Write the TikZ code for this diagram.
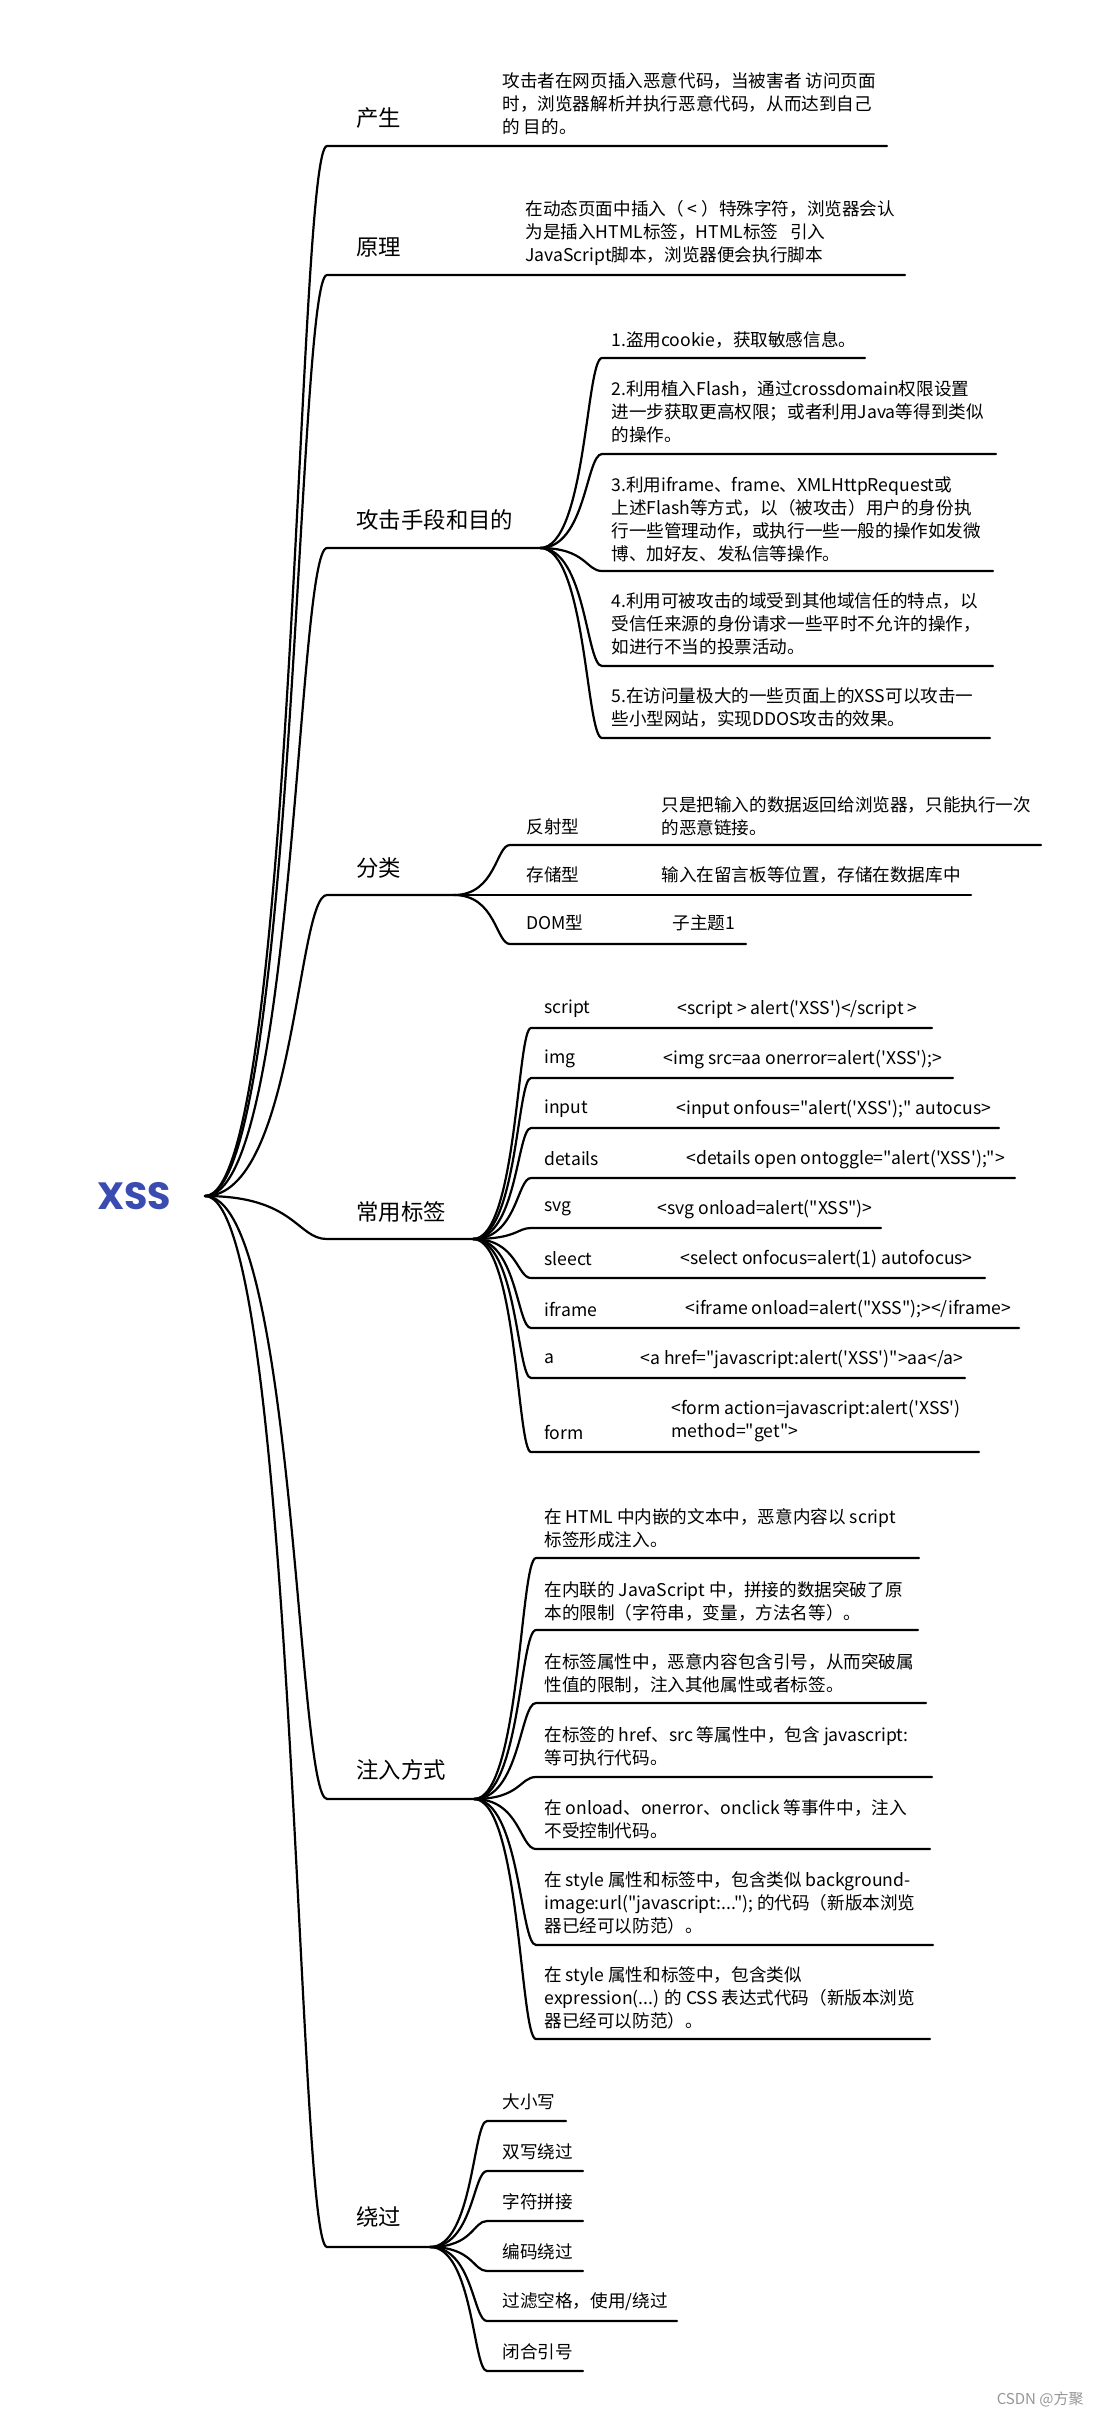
\documentclass[tikz,border=0pt]{standalone}
\usepackage{fontspec}
\newfontfamily\cjk{Noto Sans CJK SC}
\newfontfamily\rootfont{Poppins}
\definecolor{xssblue}{RGB}{58,76,176}
\definecolor{markgray}{RGB}{150,150,150}
\tikzset{
	toptext/.style={font=\cjk\fontsize{11.2}{13}\selectfont, anchor=west, inner sep=0pt}
}
\tikzset{
	leaftext/.style={font=\cjk\fontsize{8.8}{11.5}\selectfont, anchor=west, align=left, inner sep=0pt}
}
\tikzset{
	twig/.style={line width=1.1pt, line cap=round}
}

\begin{document}
\begin{tikzpicture}[x=0.5pt, y=-0.5pt]
  \useasboundingbox (0,0) rectangle (1100,2435);
  \node[font=\rootfont\bfseries\fontsize{19}{22}\selectfont, text=xssblue, inner sep=0pt] (xss) at (134,1196) {XSS};
  \coordinate (root) at (205,1196);

  % 产生
  \coordinate (cs-l) at (327,146);
  \coordinate (cs-r) at (887,146);
  \node[toptext] (cs) at (356,118) {产生};
  \node[leaftext] (cs-t) at (502,104) {攻击者在网页插入恶意代码，当被害者 访问页面\\时，浏览器解析并执行恶意代码，从而达到自己\\的 目的。};
  \draw[twig] (root) .. controls +(90,0) and +(-30,0) .. (cs-l) -- (cs-r);

  % 原理
  \coordinate (yl-l) at (327,275);
  \coordinate (yl-r) at (905,275);
  \node[toptext] (yl) at (356,247) {原理};
  \node[leaftext] (yl-t) at (525,233) {在动态页面中插入（ < ）特殊字符，浏览器会认\\为是插入HTML标签，HTML标签 \ \ 引入\\JavaScript脚本，浏览器便会执行脚本};
  \draw[twig] (root) .. controls +(90,0) and +(-30,0) .. (yl-l) -- (yl-r);

  % 攻击手段和目的
  \coordinate (gj-l) at (327,548);
  \coordinate (gj-r) at (540,548);
  \node[toptext] (gj) at (356,520) {攻击手段和目的};
  \draw[twig] (root) .. controls +(90,0) and +(-30,0) .. (gj-l) -- (gj-r);

  \coordinate (gj1-l) at (602,358);
  \coordinate (gj1-r) at (865,358);
  \node[leaftext] (gj1) at (611,340) {1.盗用cookie，获取敏感信息。};
  \draw[twig] (gj-r) .. controls +(46,0) and +(-16,0) .. (gj1-l) -- (gj1-r);

  \coordinate (gj2-l) at (602,454);
  \coordinate (gj2-r) at (996,454);
  \node[leaftext] (gj2) at (611,412) {2.利用植入Flash，通过crossdomain权限设置\\进一步获取更高权限；或者利用Java等得到类似\\的操作。};
  \draw[twig] (gj-r) .. controls +(46,0) and +(-16,0) .. (gj2-l) -- (gj2-r);

  \coordinate (gj3-l) at (602,571);
  \coordinate (gj3-r) at (993,571);
  \node[leaftext] (gj3) at (611,519) {3.利用iframe、frame、XMLHttpRequest或\\上述Flash等方式，以（被攻击）用户的身份执\\行一些管理动作，或执行一些一般的操作如发微\\博、加好友、发私信等操作。};
  \draw[twig] (gj-r) .. controls +(46,0) and +(-16,0) .. (gj3-l) -- (gj3-r);

  \coordinate (gj4-l) at (602,666);
  \coordinate (gj4-r) at (993,666);
  \node[leaftext] (gj4) at (611,624) {4.利用可被攻击的域受到其他域信任的特点，以\\受信任来源的身份请求一些平时不允许的操作，\\如进行不当的投票活动。};
  \draw[twig] (gj-r) .. controls +(46,0) and +(-16,0) .. (gj4-l) -- (gj4-r);

  \coordinate (gj5-l) at (602,738);
  \coordinate (gj5-r) at (990,738);
  \node[leaftext] (gj5) at (611,708) {5.在访问量极大的一些页面上的XSS可以攻击一\\些小型网站，实现DDOS攻击的效果。};
  \draw[twig] (gj-r) .. controls +(46,0) and +(-16,0) .. (gj5-l) -- (gj5-r);

  % 分类
  \coordinate (fl-l) at (327,895);
  \coordinate (fl-r) at (454,895);
  \node[toptext] (fl) at (356,868) {分类};
  \draw[twig] (root) .. controls +(90,0) and +(-30,0) .. (fl-l) -- (fl-r);

  \coordinate (fs-l) at (510,845);
  \coordinate (fs-r) at (1041,845);
  \node[leaftext] (fs) at (526,827) {反射型};
  \node[leaftext] (fs-t) at (661,816) {只是把输入的数据返回给浏览器，只能执行一次\\的恶意链接。};
  \draw[twig] (fl-r) .. controls +(42,0) and +(-14,0) .. (fs-l) -- (fs-r);

  \coordinate (cc-l) at (510,895);
  \coordinate (cc-r) at (971,895);
  \node[leaftext] (cc) at (526,875) {存储型};
  \node[leaftext] (cc-t) at (661,875) {输入在留言板等位置，存储在数据库中};
  \draw[twig] (fl-r) -- (cc-l) -- (cc-r);

  \coordinate (dom-l) at (510,944);
  \coordinate (dom-r) at (746,944);
  \node[leaftext] (dom) at (526,923) {DOM型};
  \node[leaftext] (dom-t) at (672,923) {子主题1};
  \draw[twig] (fl-r) .. controls +(42,0) and +(-14,0) .. (dom-l) -- (dom-r);

  % 常用标签
  \coordinate (bq-l) at (327,1239);
  \coordinate (bq-r) at (473,1239);
  \node[toptext] (bq) at (356,1212) {常用标签};
  \draw[twig] (root) .. controls +(90,0) and +(-30,0) .. (bq-l) -- (bq-r);

  \coordinate (bq1-l) at (531,1028);
  \coordinate (bq1-r) at (932,1028);
  \node[leaftext] (bq1) at (544,1009) {script};
  \node[leaftext] (bq1-t) at (677,1009) {<script > alert('XSS')</script >};
  \draw[twig] (bq-r) .. controls +(44,0) and +(-14,0) .. (bq1-l) -- (bq1-r);

  \coordinate (bq2-l) at (531,1078);
  \coordinate (bq2-r) at (953,1078);
  \node[leaftext] (bq2) at (544,1059) {img};
  \node[leaftext] (bq2-t) at (663,1059) {<img src=aa onerror=alert('XSS');>};
  \draw[twig] (bq-r) .. controls +(44,0) and +(-14,0) .. (bq2-l) -- (bq2-r);

  \coordinate (bq3-l) at (531,1128);
  \coordinate (bq3-r) at (999,1128);
  \node[leaftext] (bq3) at (544,1109) {input};
  \node[leaftext] (bq3-t) at (676,1109) {<input onfous="alert('XSS');" autocus>};
  \draw[twig] (bq-r) .. controls +(44,0) and +(-14,0) .. (bq3-l) -- (bq3-r);

  \coordinate (bq4-l) at (531,1178);
  \coordinate (bq4-r) at (1015,1178);
  \node[leaftext] (bq4) at (544,1159) {details};
  \node[leaftext] (bq4-t) at (686,1159) {<details open ontoggle="alert('XSS');">};
  \draw[twig] (bq-r) .. controls +(44,0) and +(-14,0) .. (bq4-l) -- (bq4-r);

  \coordinate (bq5-l) at (531,1228);
  \coordinate (bq5-r) at (881,1228);
  \node[leaftext] (bq5) at (544,1209) {svg};
  \node[leaftext] (bq5-t) at (657,1209) {<svg onload=alert("XSS")>};
  \draw[twig] (bq-r) .. controls +(44,0) and +(-14,0) .. (bq5-l) -- (bq5-r);

  \coordinate (bq6-l) at (531,1278);
  \coordinate (bq6-r) at (985,1278);
  \node[leaftext] (bq6) at (544,1259) {sleect};
  \node[leaftext] (bq6-t) at (680,1259) {<select onfocus=alert(1) autofocus>};
  \draw[twig] (bq-r) .. controls +(44,0) and +(-14,0) .. (bq6-l) -- (bq6-r);

  \coordinate (bq7-l) at (531,1328);
  \coordinate (bq7-r) at (1019,1328);
  \node[leaftext] (bq7) at (544,1309) {iframe};
  \node[leaftext] (bq7-t) at (685,1309) {<iframe onload=alert("XSS");></iframe>};
  \draw[twig] (bq-r) .. controls +(44,0) and +(-14,0) .. (bq7-l) -- (bq7-r);

  \coordinate (bq8-l) at (531,1378);
  \coordinate (bq8-r) at (965,1378);
  \node[leaftext] (bq8) at (544,1359) {a};
  \node[leaftext] (bq8-t) at (640,1359) {<a href="javascript:alert('XSS')">aa</a>};
  \draw[twig] (bq-r) .. controls +(44,0) and +(-14,0) .. (bq8-l) -- (bq8-r);

  \coordinate (bq9-l) at (531,1452);
  \coordinate (bq9-r) at (979,1452);
  \node[leaftext] (bq9) at (544,1432) {form};
  \node[leaftext] (bq9-t) at (671,1421) {<form action=javascript:alert('XSS')\\method="get">};
  \draw[twig] (bq-r) .. controls +(44,0) and +(-14,0) .. (bq9-l) -- (bq9-r);

  % 注入方式
  \coordinate (zr-l) at (327,1799);
  \coordinate (zr-r) at (474,1799);
  \node[toptext] (zr) at (356,1770) {注入方式};
  \draw[twig] (root) .. controls +(90,0) and +(-30,0) .. (zr-l) -- (zr-r);

  \coordinate (zr1-l) at (536,1558);
  \coordinate (zr1-r) at (919,1558);
  \node[leaftext] (zr1) at (544,1528) {在 HTML 中内嵌的文本中，恶意内容以 script\\标签形成注入。};
  \draw[twig] (zr-r) .. controls +(46,0) and +(-16,0) .. (zr1-l) -- (zr1-r);

  \coordinate (zr2-l) at (536,1630);
  \coordinate (zr2-r) at (918,1630);
  \node[leaftext] (zr2) at (544,1601) {在内联的 JavaScript 中，拼接的数据突破了原\\本的限制（字符串，变量，方法名等）。};
  \draw[twig] (zr-r) .. controls +(46,0) and +(-16,0) .. (zr2-l) -- (zr2-r);

  \coordinate (zr3-l) at (536,1703);
  \coordinate (zr3-r) at (926,1703);
  \node[leaftext] (zr3) at (544,1673) {在标签属性中，恶意内容包含引号，从而突破属\\性值的限制，注入其他属性或者标签。};
  \draw[twig] (zr-r) .. controls +(46,0) and +(-16,0) .. (zr3-l) -- (zr3-r);

  \coordinate (zr4-l) at (536,1777);
  \coordinate (zr4-r) at (932,1777);
  \node[leaftext] (zr4) at (544,1746) {在标签的 href、src 等属性中，包含 javascript:\\等可执行代码。};
  \draw[twig] (zr-r) .. controls +(46,0) and +(-16,0) .. (zr4-l) -- (zr4-r);

  \coordinate (zr5-l) at (536,1849);
  \coordinate (zr5-r) at (930,1849);
  \node[leaftext] (zr5) at (544,1819) {在 onload、onerror、onclick 等事件中，注入\\不受控制代码。};
  \draw[twig] (zr-r) .. controls +(46,0) and +(-16,0) .. (zr5-l) -- (zr5-r);

  \coordinate (zr6-l) at (536,1945);
  \coordinate (zr6-r) at (933,1945);
  \node[leaftext] (zr6) at (544,1903) {在 style 属性和标签中，包含类似 background-\\image:url("javascript:..."); 的代码（新版本浏览\\器已经可以防范）。};
  \draw[twig] (zr-r) .. controls +(46,0) and +(-16,0) .. (zr6-l) -- (zr6-r);

  \coordinate (zr7-l) at (536,2039);
  \coordinate (zr7-r) at (930,2039);
  \node[leaftext] (zr7) at (544,1998) {在 style 属性和标签中，包含类似\\expression(...) 的 CSS 表达式代码（新版本浏览\\器已经可以防范）。};
  \draw[twig] (zr-r) .. controls +(46,0) and +(-16,0) .. (zr7-l) -- (zr7-r);

  % 绕过
  \coordinate (rg-l) at (327,2247);
  \coordinate (rg-r) at (430,2247);
  \node[toptext] (rg) at (356,2217) {绕过};
  \draw[twig] (root) .. controls +(90,0) and +(-30,0) .. (rg-l) -- (rg-r);

  \coordinate (rg1-l) at (487,2121);
  \coordinate (rg1-r) at (566,2121);
  \node[leaftext] (rg1) at (502,2102) {大小写};
  \draw[twig] (rg-r) .. controls +(43,0) and +(-14,0) .. (rg1-l) -- (rg1-r);

  \coordinate (rg2-l) at (487,2171);
  \coordinate (rg2-r) at (583,2171);
  \node[leaftext] (rg2) at (502,2152) {双写绕过};
  \draw[twig] (rg-r) .. controls +(43,0) and +(-14,0) .. (rg2-l) -- (rg2-r);

  \coordinate (rg3-l) at (487,2221);
  \coordinate (rg3-r) at (583,2221);
  \node[leaftext] (rg3) at (502,2202) {字符拼接};
  \draw[twig] (rg-r) .. controls +(43,0) and +(-14,0) .. (rg3-l) -- (rg3-r);

  \coordinate (rg4-l) at (487,2271);
  \coordinate (rg4-r) at (583,2271);
  \node[leaftext] (rg4) at (502,2252) {编码绕过};
  \draw[twig] (rg-r) .. controls +(43,0) and +(-14,0) .. (rg4-l) -- (rg4-r);

  \coordinate (rg5-l) at (487,2321);
  \coordinate (rg5-r) at (677,2321);
  \node[leaftext] (rg5) at (502,2302) {过滤空格，使用/绕过};
  \draw[twig] (rg-r) .. controls +(43,0) and +(-14,0) .. (rg5-l) -- (rg5-r);

  \coordinate (rg6-l) at (487,2371);
  \coordinate (rg6-r) at (583,2371);
  \node[leaftext] (rg6) at (502,2352) {闭合引号};
  \draw[twig] (rg-r) .. controls +(43,0) and +(-14,0) .. (rg6-l) -- (rg6-r);

  \node[font=\cjk\fontsize{7.5}{9}\selectfont, text=markgray, anchor=east, inner sep=0pt] (mark) at (1084,2399) {CSDN @方聚};
\end{tikzpicture}
\end{document}
